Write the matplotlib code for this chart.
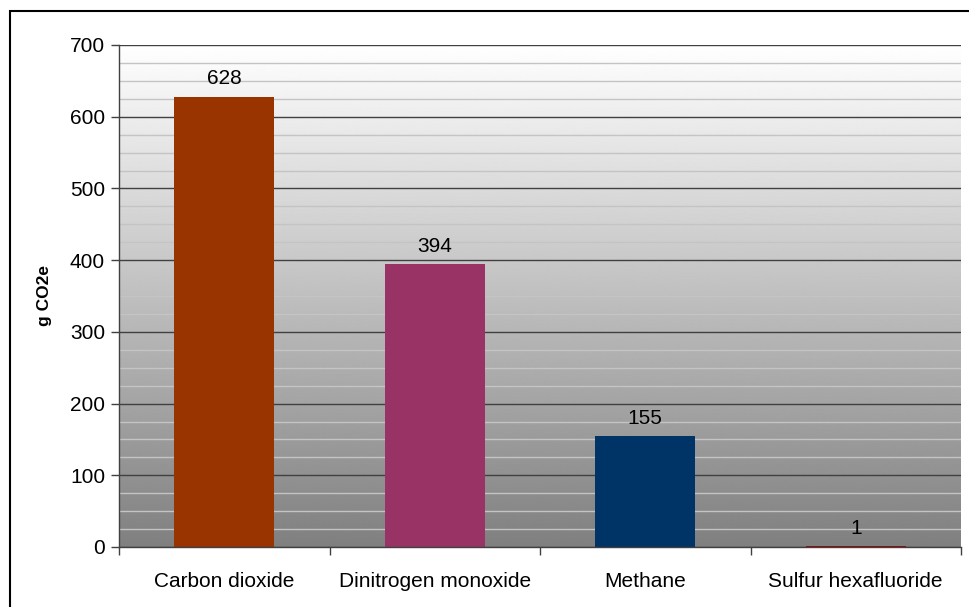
import matplotlib.pyplot as plt
import numpy as np
from matplotlib.patches import Rectangle
from matplotlib.ticker import MultipleLocator

plt.rcParams["font.family"] = ["Liberation Sans", "DejaVu Sans"]

gases = ["Carbon dioxide", "Dinitrogen monoxide", "Methane", "Sulfur hexafluoride"]
valores = [628, 394, 155, 1]
colores = ["#993300", "#993366", "#003366", "#a00000"]

fig = plt.figure(figsize=(9.69, 6.07), dpi=100)
ax = fig.add_axes([119 / 969, 1 - 547 / 607, (961 - 119) / 969, (547 - 45) / 607])

x = np.arange(len(gases))
ax.set_xlim(-0.5, len(gases) - 0.5)
ax.set_ylim(0, 700)

# fondo degradado blanco -> gris
grad = np.linspace(0.5, 1.0, 1024).reshape(-1, 1)
ax.imshow(grad, cmap="gray", vmin=0, vmax=1, origin="lower", aspect="auto",
          interpolation="bilinear", extent=(-0.5, len(gases) - 0.5, 0, 700), zorder=0)

ax.yaxis.set_major_locator(MultipleLocator(100))
ax.yaxis.set_minor_locator(MultipleLocator(25))
ax.grid(which="minor", axis="y", color="#c4c4c4", linewidth=1.0, zorder=1)
ax.grid(which="major", axis="y", color="#404040", linewidth=1.0, zorder=1)
ax.set_axisbelow(True)

ax.bar(x, valores, width=0.475, color=colores, zorder=3)

for xi, v in zip(x, valores):
    ax.annotate(str(v), (xi, v), xytext=(0, 6), textcoords="offset points",
                ha="center", va="bottom", fontsize=15, zorder=4)

ax.set_xticks(np.arange(len(gases) + 1) - 0.5)
ax.set_xticklabels([])
ax.set_xticks(x, minor=True)
ax.set_xticklabels(gases, minor=True, fontsize=15)
ax.tick_params(axis="x", which="major", direction="out", length=6, width=1, color="#404040")
ax.tick_params(axis="x", which="minor", length=0, pad=18)
ax.tick_params(axis="y", which="major", direction="out", length=6, width=1, color="#404040",
               labelsize=15, pad=4)
ax.tick_params(axis="y", which="minor", length=0)

for lado in ["top", "right"]:
    ax.spines[lado].set_visible(False)
for lado in ["left", "bottom"]:
    ax.spines[lado].set_color("#404040")
    ax.spines[lado].set_linewidth(1.0)
    ax.spines[lado].set_zorder(5)

ax.set_ylabel("g CO2e", fontsize=12.5, fontweight="bold", va="center")
ax.yaxis.set_label_coords(-(119 - 45) / (961 - 119), 0.5)

# marco exterior
fig.patches.append(Rectangle((9.5 / 969, -0.1), 1.2, 1 - 11 / 607 + 0.1,
                             transform=fig.transFigure, fill=False,
                             edgecolor="black", linewidth=1.5))

fig.savefig("out.png", dpi=100)
